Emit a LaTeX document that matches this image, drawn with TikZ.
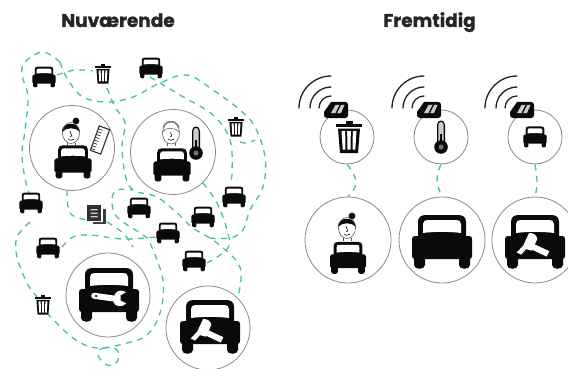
\documentclass[tikz,border=0pt]{standalone}
\usepackage{fontspec}
\newfontfamily\titlefont[FakeBold=1.1]{Poppins Bold}
\usetikzlibrary{calc}
\definecolor{teal}{HTML}{45BFAB}
\definecolor{ring}{HTML}{8A8A8A}
\definecolor{ink}{HTML}{0A0A0A}
\newcommand{\quarterarc}[1]{\draw[ink!90,line width=1.3pt,line cap=round] ({-5-#1},-2) .. controls ({-5-#1},{-2-.55*#1}) and ({-5-.55*#1},{-2-#1}) .. (-5,{-2-#1});}
\tikzset{
  x=1pt,y=-1pt,
  ringnode/.style={circle,draw=ring,line width=0.8pt,fill=none,inner sep=0,minimum size=#1},
  route/.style={draw=teal,line width=1.3pt,dash pattern=on 6pt off 5.5pt},
  title/.style={font=\titlefont\fontsize{18.5}{22}\selectfont,text=black!85,inner sep=0,anchor=base},
  carbody/.pic={
    \fill[ink] (-24,-2) -- (-24,-20) .. controls (-24,-25) and (-21,-27) .. (-16,-27) -- (16,-27) .. controls (21,-27) and (24,-25) .. (24,-20) -- (24,-2) -- cycle;
    \fill[ink] (-27,-6) -- (27,-6) .. controls (29,-6) and (30,-5) .. (30,-3) -- (30,14) .. controls (30,16) and (29,17) .. (27,17) -- (-27,17) .. controls (-29,17) and (-30,16) .. (-30,14) -- (-30,-3) .. controls (-30,-5) and (-29,-6) .. (-27,-6) -- cycle;
    \fill[ink] (-28,15) -- (-28,23) .. controls (-28,28) and (-17,28) .. (-17,23) -- (-17,15) -- cycle;
    \fill[ink] (28,15) -- (28,23) .. controls (28,28) and (17,28) .. (17,23) -- (17,15) -- cycle;
    \fill[white] (-19,-9) -- (-19,-18) .. controls (-19,-21) and (-17,-22) .. (-14,-22) -- (14,-22) .. controls (17,-22) and (19,-21) .. (19,-18) -- (19,-9) .. controls (8,-10.5) and (-8,-10.5) .. (-19,-9) -- cycle;
  },
  wrenchmark/.pic={
    \begin{scope}[rotate=-8]
    \fill[white] (-16,-3) -- (6,-3) -- (6,3) -- (-16,3) .. controls (-20,3) and (-20,-3) .. (-16,-3) -- cycle;
    \fill[white] (4,-3.5) .. controls (5,-9) and (11,-10) .. (15,-8) -- (10,-4) -- (11,1) -- (17,3) .. controls (14,8) and (5,8) .. (4,3.5) -- cycle;
    \fill[ink] (-14,0) circle (1.3);
    \end{scope}
  },
  hammermark/.pic={
    \begin{scope}[rotate=-25]
    \fill[white] (0,-3) -- (21,-3) -- (21,3) -- (0,3) -- cycle;
    \fill[white] (-5,-11) .. controls (-1,-13) and (3,-12) .. (5,-9) -- (5,4) -- (-1,5) -- (-3,12) -- (-8,12) -- (-5,3) -- cycle;
    \end{scope}
  },
  trash/.pic={
    \fill[ink] (-3.5,-16) -- (3.5,-16) -- (3.5,-13) -- (-3.5,-13) -- cycle;
    \fill[ink] (-13,-13.5) -- (13,-13.5) -- (13,-10) -- (-13,-10) -- cycle;
    \fill[ink] (-11,-8.5) -- (11,-8.5) -- (9,16) -- (-9,16) -- cycle;
    \fill[white] (-7.5,-6) -- (-3.8,-6) -- (-3.6,12.5) -- (-6.3,12.5) -- cycle;
    \fill[white] (-1.8,-6) -- (1.8,-6) -- (1.6,12.5) -- (-1.6,12.5) -- cycle;
    \fill[white] (3.8,-6) -- (7.5,-6) -- (6.3,12.5) -- (3.6,12.5) -- cycle;
  },
  thermo/.pic={
    \fill[ink] (-4,6) -- (-4,-12) .. controls (-4,-18) and (4,-18) .. (4,-12) -- (4,6) -- cycle;
    \fill[white!80!black] (-2.6,5) -- (-2.6,-12) .. controls (-2.6,-16) and (2.6,-16) .. (2.6,-12) -- (2.6,5) -- cycle;
    \fill[ink] (-1.2,6) -- (-1.2,-3) -- (1.2,-3) -- (1.2,6) -- cycle;
    \fill[ink] (0,10) circle (6.8);
    \fill[black!55] (0,10) circle (2.5);
  },
  womanhead/.pic={
    \fill[white] (0,0) ellipse (8.5 and 10.5);
    \fill[ink] (-9,-1) .. controls (-10,-11) and (8,-13) .. (9,-1) .. controls (5,-6) and (-5,-6) .. (-9,-1) -- cycle;
    \fill[ink] (5,-12) circle (3.4);
    \draw[ink!70,line width=.6pt] (0,0) ellipse (8.5 and 10.5);
    \draw[ink,line width=.6pt] (-1,-2) -- (0.8,3) -- (-1,3.5);
    \draw[ink,line width=.6pt] (-3,6.5) .. controls (-1,7.5) and (1,7.5) .. (3,6.2);
    \draw[ink!70,line width=.6pt] (-4,10) -- (-4,13) (4,10) -- (4,13);
  },
  manhead/.pic={
    \draw[ink!65,line width=.6pt] (0,0) ellipse (8.5 and 11);
    \draw[ink!65,line width=.6pt] (-8.5,-1) .. controls (-6,-6) and (4,-6) .. (8.5,-1);
    \draw[ink!65,line width=.6pt] (-8,-5) .. controls (-7,-14) and (7,-14) .. (8,-5);
    \draw[ink,line width=.6pt] (-.5,-1) -- (0.8,3) -- (-1,3.5);
    \draw[ink,line width=.6pt] (-3,6.5) .. controls (-1,7.5) and (1,7.5) .. (3,6.2);
    \draw[ink!65,line width=.6pt] (-4,10) -- (-4,13) (4,10) -- (4,13);
  },
  rulermark/.pic={
    \begin{scope}[rotate=-20]
    \draw[ink!85,line width=1.1pt,fill=white] (-5.5,-13) rectangle (5.5,13);
    \foreach \t in {-10,-7,...,11}{\draw[ink!85,line width=.7pt] (-5.5,\t) -- (-1,\t);}
    \end{scope}
  },
  docmark/.pic={
    \fill[ink!80] (-3,-5) rectangle (10,10);
    \fill[white] (-5,-7) rectangle (7,8);
    \fill[ink!85] (-9,-9) rectangle (5,6.5);
    \fill[white!80!black] (-5.5,-5) rectangle (1.5,-3.6) (-5.5,-1.5) rectangle (1.5,-.1) (-5.5,2) rectangle (1.5,3.4);
  },
  sensormark/.pic={
    \fill[ink] (-5,-8) -- (9,-8) .. controls (11,-8) and (12,-7) .. (12,-5) -- (12,5) .. controls (12,7) and (11,8) .. (9,8) -- (-9,8) .. controls (-11,8) and (-12,7) .. (-12,5) -- (-12,2) -- cycle;
    \fill[white!80!black] (-5,3) -- (-.5,-5) -- (8.5,-5) -- (5,3) -- cycle;
    \fill[ink] (-.5,3) -- (3.5,-5) -- (5,-5) -- (1,3) -- cycle;
    \quarterarc{12}
    \quarterarc{21}
    \quarterarc{32}
  }
}
\begin{document}
\begin{tikzpicture}
\clip (0,0) rectangle (568,369);
\fill[white] (0,0) rectangle (568,369);

% dashed routes (left map)
\draw[route] plot[smooth,tension=.6] coordinates {(60,62) (43,52) (25,62) (22,75) (28,97) (25,130) (22,157) (27,187) (31,196)};
\draw[route] plot[smooth,tension=.6] coordinates {(30,222) (17,237) (17,257) (27,283) (37,297)};
\draw[route] plot[smooth,tension=.6] coordinates {(47,313) (73,338) (97,348) (127,343) (147,335) (160,313) (163,280) (150,243) (143,235) (117,217) (112,200) (117,190) (133,190)};
\draw[route] plot[smooth,tension=.6] coordinates {(57,75) (75,70) (93,71)};
\draw[route] plot[smooth,tension=.6] coordinates {(60,62) (68,80) (83,97) (107,102) (133,97) (160,83) (187,75) (213,90) (240,110) (255,127) (265,157) (263,187) (250,210) (243,230) (230,238) (207,238)};
\draw[route] plot[smooth,tension=.6] coordinates {(107,88) (115,107) (125,123) (122,150) (130,187) (157,197) (177,213) (193,228) (217,243) (240,267) (238,297)};
\draw[route] plot[smooth,tension=.6] coordinates {(150,77) (180,95) (213,115) (230,140) (232,173) (230,183)};
\draw[route] plot[smooth,tension=.6] coordinates {(240,142) (247,143) (255,140)};
\draw[route] plot[smooth,tension=.6] coordinates {(203,183) (217,203) (227,230) (228,248) (207,263)};
\draw[route] plot[smooth,tension=.6] coordinates {(67,190) (70,213) (87,220)};
\draw[route] plot[smooth,tension=.6] coordinates {(107,222) (123,233) (133,247)};
\draw[route] plot[smooth,tension=.6] coordinates {(62,247) (73,237) (90,235) (123,239) (157,237)};
\draw[route] plot[smooth cycle,tension=.7] coordinates {(98,355) (103,348) (117,350) (117,362) (107,365)};

% left rings
\node[ringnode=85pt] (n1) at (72,148) {};
\node[ringnode=85pt] (n2) at (173,152) {};
\node[ringnode=84pt] (n3) at (108,295) {};
\node[ringnode=84pt] (n4) at (208,328) {};

% small cars
\foreach \px/\py in {44/77,151/68,31/203,139/208,168/233,203/217,234/197,48/248,194/261}
  \pic[scale=.385] at (\px,\py) {carbody};
% small trash and document
\pic[scale=.6] at (103,74) {trash};
\pic[scale=.6] at (236,127) {trash};
\pic[scale=.6] at (43,305) {trash};
\pic at (96,214) {docmark};

% people
\pic[scale=.62] at (73,162) {carbody};
\pic at (71,133) {womanhead};
\pic at (100,140) {rulermark};
\pic[scale=.62] at (172,165) {carbody};
\pic at (171,133) {manhead};
\pic at (196,143) {thermo};

% big left cars
\pic at (109,295) {carbody};
\pic at (110,298) {wrenchmark};
\pic at (210,327) {carbody};
\pic at (203,331) {hammermark};

% right rings
\node[ringnode=54pt] (s1) at (347,137) {};
\node[ringnode=54pt] (s2) at (441,137) {};
\node[ringnode=54pt] (s3) at (535,137) {};
\node[ringnode=86pt] (b1) at (348,240) {};
\node[ringnode=86pt] (b2) at (442,240) {};
\node[ringnode=86pt] (b3) at (535,240) {};

\draw[route] plot[smooth,tension=.8] coordinates {(s1.south) (356,182) (b1.north)};
\draw[route] plot[smooth,tension=.8] coordinates {(s2.south) (437,180) (b2.north)};
\draw[route] plot[smooth,tension=.8] coordinates {(s3.south) (537,182) (b3.north)};

\pic at (349,137) {trash};
\pic at (441,137) {thermo};
\pic[scale=.39] at (535,137) {carbody};
\pic at (336,110) {sensormark};
\pic at (429,110) {sensormark};
\pic at (522,110) {sensormark};

\pic[scale=.6] at (348,258) {carbody};
\pic at (347,228) {womanhead};
\pic at (442,242) {carbody};
\pic at (535,242) {carbody};
\pic at (529,245) {hammermark};

% titles
\node[title] (t1) at (118,27) {Nuværende};
\node[title] (t2) at (429.5,27) {Fremtidig};
\end{tikzpicture}
\end{document}
